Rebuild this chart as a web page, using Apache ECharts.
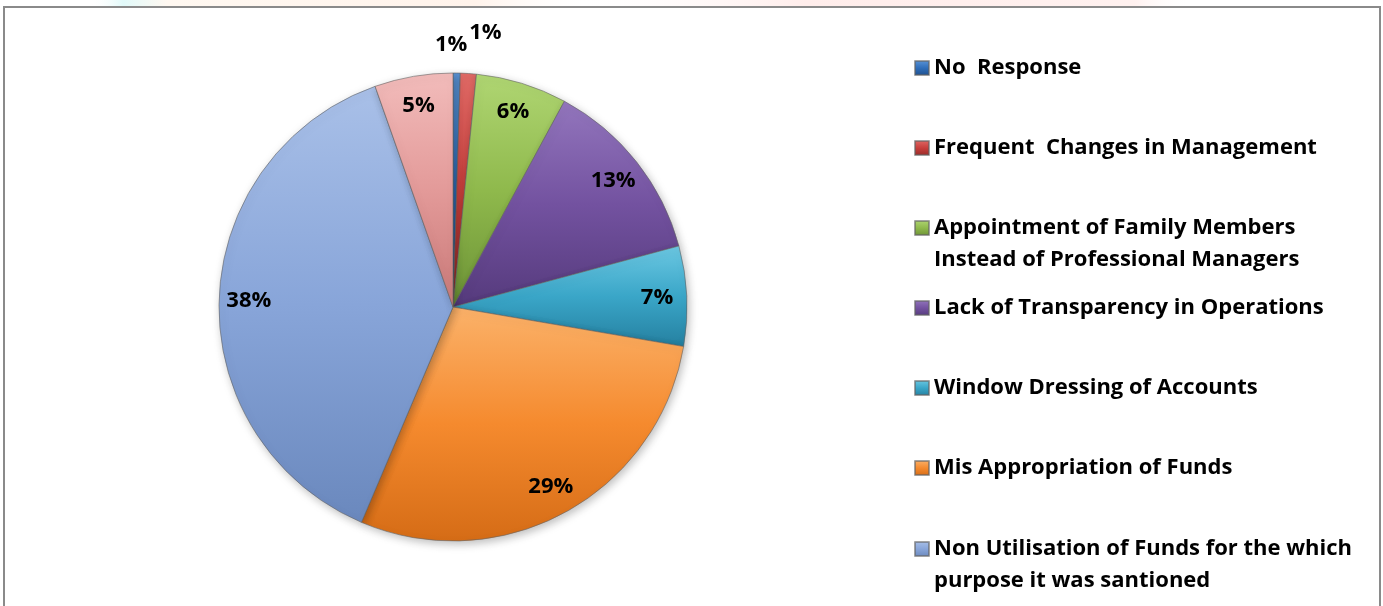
<!DOCTYPE html>
<html>
<head>
<meta charset="utf-8">
<script src="https://cdn.jsdelivr.net/npm/echarts@6/dist/echarts.min.js"></script>
<style>
  html, body { margin: 0; padding: 0; background: #fff; }
  #main { width: 1383px; height: 606px; }
</style>
</head>
<body>
<div id="main"></div>
<script>
// categories, clockwise from 12 o'clock
var categories = [
  'No  Response',
  'Frequent  Changes in Management',
  'Appointment of Family Members\nInstead of Professional Managers',
  'Lack of Transparency in Operations',
  'Window Dressing of Accounts',
  'Mis Appropriation of Funds',
  'Non Utilisation of Funds for the which\npurpose it was santioned',
  'Others'
];
// share of respondents (%)
var shares = [0.5, 1.1, 6.3, 12.9, 6.9, 28.7, 38.2, 5.4];
// [light, base, dark] per slice
var palette = [
  ['#5b95d8', '#2f6eba', '#1f4f8c'],
  ['#e06a66', '#c83f3c', '#962a28'],
  ['#b0d673', '#8fb94c', '#6c9236'],
  ['#9376bd', '#7352a0', '#553a7c'],
  ['#6cc8e2', '#3aa6c8', '#2580a0'],
  ['#fbb26a', '#f58a2e', '#d56c16'],
  ['#a9c0e8', '#88a5d9', '#6a88bd'],
  ['#f2bcbb', '#e39a99', '#c97978']
];
var legendCenters = [68, 148, 228, 308, 388, 468, 549];

var R = 234;
var fontFam = '"Open Sans", Lato, "DejaVu Sans", sans-serif';

var chart = echarts.init(document.getElementById('main'));

var sliceData = categories.map(function (name, i) {
  var c = palette[i];
  return {
    name: name,
    value: shares[i],
    itemStyle: {
      color: new echarts.graphic.LinearGradient(0, 0, 0, 1, [
        { offset: 0, color: c[0] },
        { offset: 0.5, color: c[1] },
        { offset: 1, color: c[2] }
      ])
    }
  };
});

// label-only ring so that labels sit at ~0.86 R like the original
var labelOffsets = { 0: [-5, -58], 1: [19, -70] };
var labelData = categories.map(function (name, i) {
  var d = { name: name, value: shares[i] };
  if (labelOffsets[i]) d.label = { offset: labelOffsets[i] };
  return d;
});

var legends = [];
categories.forEach(function (name, i) {
  if (i >= legendCenters.length) return;
  var twoLines = name.indexOf('\n') >= 0;
  legends.push({
    data: [name],
    orient: 'vertical',
    left: 914,
    top: legendCenters[i] - (twoLines ? 48 : 16),
    padding: 0,
    icon: 'rect',
    itemWidth: 14,
    itemHeight: 14,
    itemGap: 0,
    selectedMode: false,
    formatter: function (n) { return n.indexOf('\n') >= 0 ? '\n' + n : n; },
    textStyle: {
      fontFamily: fontFam,
      fontWeight: 'bold',
      fontSize: 22,
      lineHeight: 32,
      color: '#000'
    }
  });
});

var option = {
  backgroundColor: '#fff',
  animation: false,
  legend: legends,
  graphic: [
    // faded banner strip above the frame
    {
      type: 'rect', silent: true,
      shape: { x: 90, y: 0, width: 1100, height: 7 },
      style: {
        fill: new echarts.graphic.LinearGradient(0, 0, 1, 0, [
          { offset: 0, color: 'rgba(255,255,255,0)' },
          { offset: 0.03, color: 'rgba(170,240,240,0.35)' },
          { offset: 0.07, color: 'rgba(255,235,215,0.35)' },
          { offset: 0.35, color: 'rgba(255,225,205,0.4)' },
          { offset: 0.45, color: 'rgba(255,255,255,0.1)' },
          { offset: 0.65, color: 'rgba(255,210,205,0.4)' },
          { offset: 0.95, color: 'rgba(255,215,210,0.35)' },
          { offset: 1, color: 'rgba(255,255,255,0)' }
        ])
      }
    },
    // chart frame
    {
      type: 'rect',
      shape: { x: 4, y: 7, width: 1376, height: 700 },
      style: { fill: 'none', stroke: '#8a8a8a', lineWidth: 2 },
      silent: true
    }
  ],
  series: [
    {
      type: 'pie',
      center: [453, 307],
      radius: [0, R],
      startAngle: 90,
      clockwise: true,
      data: sliceData,
      label: { show: false },
      labelLine: { show: false },
      itemStyle: {
        borderColor: 'rgba(100,100,100,0.6)',
        borderWidth: 1,
        shadowBlur: 8,
        shadowColor: 'rgba(0,0,0,0.25)',
        shadowOffsetX: 2,
        shadowOffsetY: 3
      },
      emphasis: { disabled: true }
    },
    {
      type: 'pie',
      center: [453, 307],
      radius: [R * 0.72, R],
      startAngle: 90,
      clockwise: true,
      silent: true,
      data: labelData,
      itemStyle: { color: 'rgba(0,0,0,0)' },
      labelLine: { show: false },
      label: {
        show: true,
        position: 'inside',
        formatter: function (p) { return Math.round(p.value) + '%'; },
        fontFamily: fontFam,
        fontWeight: 'bold',
        fontSize: 22,
        color: '#000'
      },
      emphasis: { disabled: true }
    }
  ]
};

chart.setOption(option);
</script>
</body>
</html>
